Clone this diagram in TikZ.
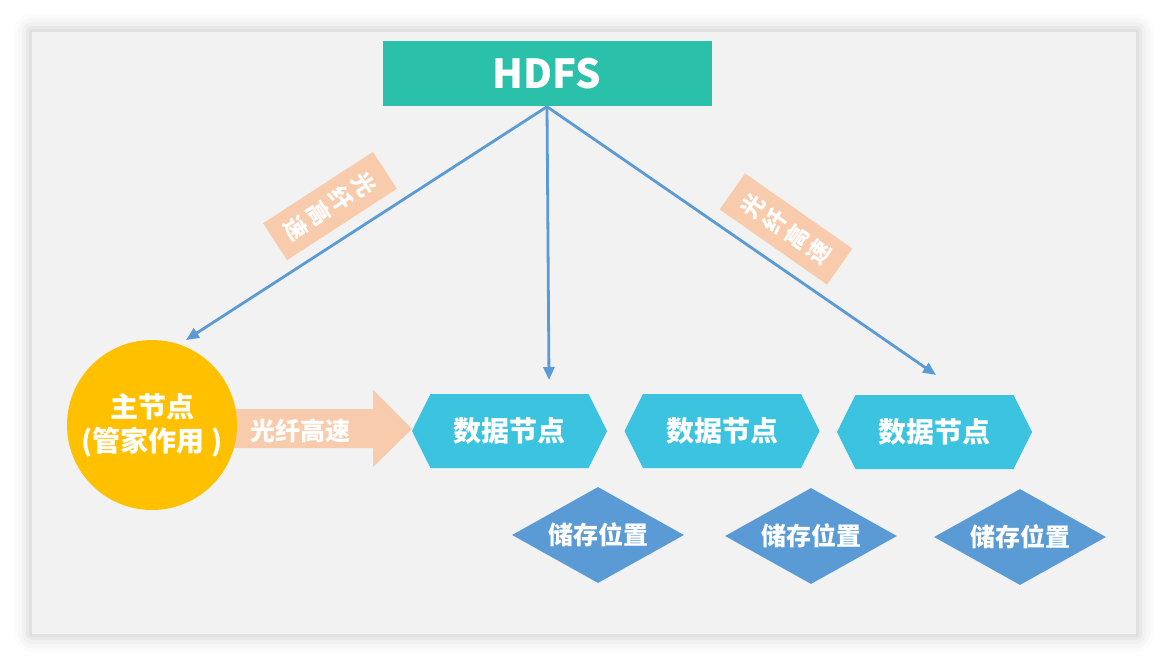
\documentclass[tikz,border=0pt]{standalone}
\usepackage{fontspec}
\setmainfont{Noto Sans CJK SC}
\usetikzlibrary{arrows.meta,shapes.geometric,shapes.symbols}
\definecolor{hdTeal}{HTML}{2BC0A9}
\definecolor{hdGold}{HTML}{FFC000}
\definecolor{hdCyan}{HTML}{3CC3E0}
\definecolor{hdBlue}{HTML}{5B9BD5}
\definecolor{hdPeach}{HTML}{F8CBAD}
\definecolor{hdPanel}{HTML}{F2F2F2}
\tikzset{
  hd head/.style={rectangle, fill=hdTeal, minimum width=329pt, minimum height=65pt, inner sep=0pt, text=white, font=\fontsize{40}{44}\selectfont\bfseries},
  hd master/.style={circle, fill=hdGold, minimum size=170pt, inner sep=0pt, text=white, align=center, font=\fontsize{28}{34}\selectfont\bfseries},
  hd data/.style={signal, signal to=east and west, signal pointer angle=127, fill=hdCyan, minimum width=195pt, minimum height=74pt, inner sep=0pt, text=white, font=\fontsize{28}{32}\selectfont\bfseries},
  hd store/.style={diamond, aspect=1.8, fill=hdBlue, minimum width=172pt, minimum height=96pt, inner sep=0pt, text=white, font=\fontsize{25}{28}\selectfont\bfseries},
  hd link/.style={draw=hdBlue, line width=2.8pt, -{Triangle[length=13pt,width=11pt]}},
  hd tag/.style={rectangle, fill=hdPeach, minimum width=44pt, minimum height=131pt, inner sep=0pt, text=white, align=center, font=\fontsize{23}{27}\selectfont\bfseries},
}

\begin{document}
\begin{tikzpicture}[x=1pt,y=-1pt]
  \useasboundingbox[fill=white] (0,0) rectangle (1168,666);
  % soft shadow round the slide
  \foreach \s/\o in {18/0.012,14/0.018,10/0.024,6/0.03,3/0.035} {
    \fill[black, opacity=\o, rounded corners=\s pt] (32-\s,32-\s) rectangle (1136+\s,634+\s);
  }
  \fill[hdPanel] (32,32) rectangle (1136,634);

  \node[hd head] (hdfs) at (547,74) {HDFS};

  % wide arrow from the master node
  \fill[hdPeach] (233,409) -- (373,409) -- (373,390) -- (412,429) -- (373,467) -- (373,448) -- (233,448) -- cycle;
  \node[text=white, font=\fontsize{25}{28}\selectfont\bfseries] (tagmid) at (300,431) {光纤高速};

  \node[hd master] (master) at (152,425) {主节点\\(管家作用 )};

  \node[hd data] (dn1) at (509.5,431) {数据节点};
  \node[hd data] (dn2) at (722,431) {数据节点};
  \node[hd data] (dn3) at (934.5,432) {数据节点};

  \node[hd store] (st1) at (598,535) {储存位置};
  \node[hd store] (st2) at (811,536) {储存位置};
  \node[hd store] (st3) at (1020,537) {储存位置};

  \coordinate (endA) at (186,340);
  \coordinate (endB) at (549,380);
  \coordinate (endC) at (936,375);
  \draw[hd link] (hdfs.south) -- (endA);
  \draw[hd link] (hdfs.south) -- (endB);
  \draw[hd link] (hdfs.south) -- (endC);

  \node[hd tag, rotate=-57] (tagL) at (330,206) {光\\纤\\高\\速};
  \node[hd tag, rotate=55] (tagR) at (786,229) {光\\纤\\高\\速};
\end{tikzpicture}
\end{document}
